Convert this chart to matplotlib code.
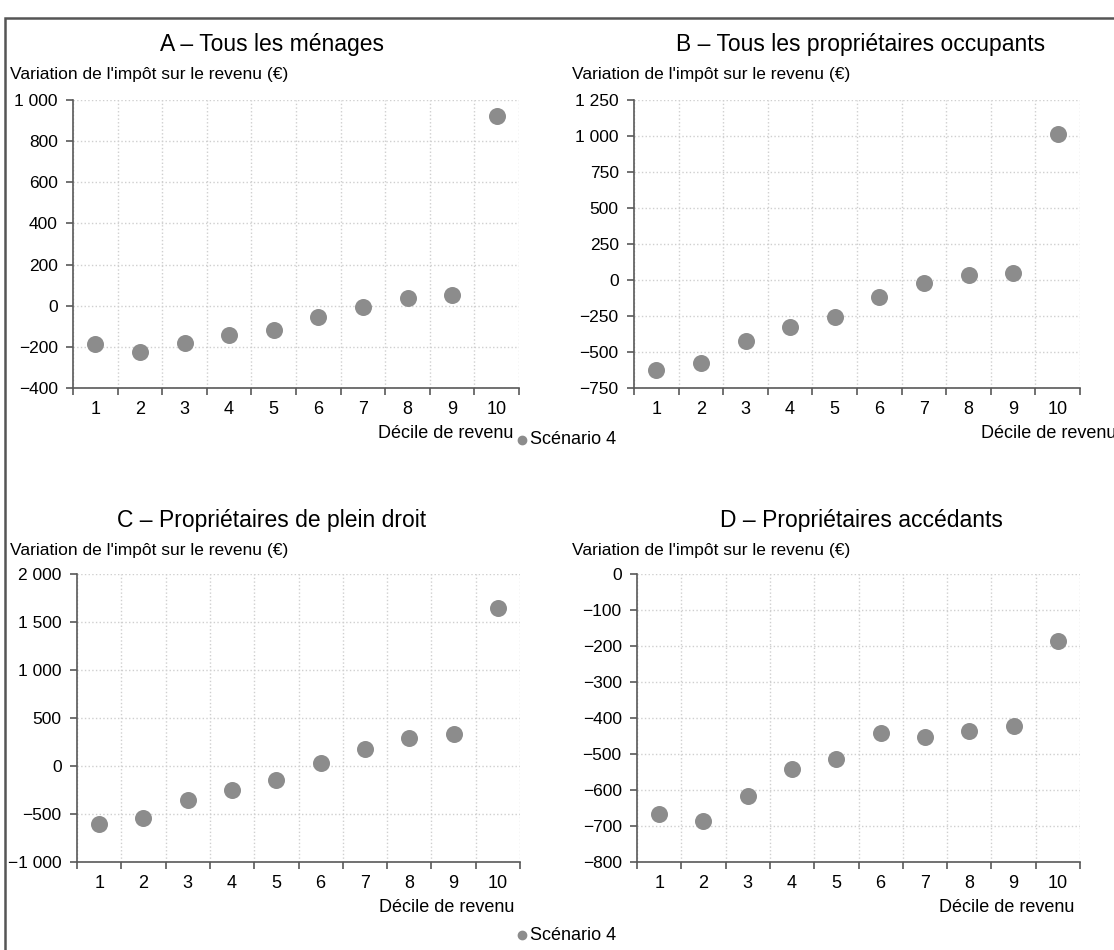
import numpy as np
import matplotlib.pyplot as plt
from matplotlib.patches import Rectangle
from matplotlib.ticker import FuncFormatter, MultipleLocator

plt.rcParams['font.family'] = ['Liberation Sans', 'DejaVu Sans']

# --- Données ---
deciles = list(range(1, 11))
tous_menages = [-188, -225, -183, -142, -118, -56, -5, 36, 52, 922]
proprio_occupants = [-625, -574, -424, -329, -259, -116, -21, 37, 51, 1012]
plein_droit = [-608, -539, -358, -250, -146, 31, 181, 292, 330, 1648]
accedants = [-667, -687, -618, -541, -514, -442, -452, -436, -422, -186]

titres = ["A – Tous les ménages", "B – Tous les propriétaires occupants",
          "C – Propriétaires de plein droit", "D – Propriétaires accédants"]
ylabel = "Variation de l'impôt sur le revenu (€)"
xlabel = "Décile de revenu"
serie = "Scénario 4"

W, H = 1114, 950
gris_point = '#8c8c8c'
gris_axe = '#595959'

fig = plt.figure(figsize=(W / 100, H / 100), dpi=100)


def px_axes(left, right, top, bottom):
    return fig.add_axes([left / W, 1 - bottom / H, (right - left) / W, (bottom - top) / H])


def fmt(v, pos):
    s = f"{abs(v):,.0f}".replace(',', ' ')
    return ('\u2212' + s) if v < 0 else s


panneaux = [
    # (données, gauche, droite, haut, bas, ymin, ymax, pas)
    (tous_menages, 73, 519, 100, 388, -400, 1000, 200),
    (proprio_occupants, 634, 1080, 100, 388, -750, 1250, 250),
    (plein_droit, 77, 520, 574, 862, -1000, 2000, 500),
    (accedants, 637, 1080, 574, 862, -800, 0, 100),
]

for i, (vals, l, r, t, b, ymin, ymax, pas) in enumerate(panneaux):
    ax = px_axes(l, r, t, b)
    ax.scatter(deciles, vals, s=150, color=gris_point, zorder=3, linewidths=0)
    ax.set_xlim(0.5, 10.5)
    ax.set_ylim(ymin, ymax)
    ax.set_xticks(deciles)
    ax.set_xticks(np.arange(0.5, 11, 1), minor=True)
    ax.yaxis.set_major_locator(MultipleLocator(pas))
    ax.yaxis.set_major_formatter(FuncFormatter(fmt))
    ax.tick_params(axis='x', which='major', length=0, pad=9, labelsize=13)
    ax.tick_params(axis='x', which='minor', length=5, width=1.2, color=gris_axe, direction='out')
    ax.tick_params(axis='y', length=5, width=1.2, color=gris_axe, direction='out', labelsize=12.5, pad=6)
    ax.grid(True, axis='x', which='minor', linestyle=':', color='#cfcfcf', lw=1)
    ax.grid(True, axis='y', which='major', linestyle=':', color='#cfcfcf', lw=1)
    for s in ['top', 'right']:
        ax.spines[s].set_visible(False)
    for s in ['left', 'bottom']:
        ax.spines[s].set_color(gris_axe)
        ax.spines[s].set_linewidth(1.2)
    ax.set_axisbelow(True)

    # titre du panneau et libellé de l'axe vertical
    col_x = 272 if i % 2 == 0 else 861
    titre_y = 45 if i < 2 else 520
    fig.text(col_x / W, 1 - titre_y / H, titres[i], ha='center', va='center', fontsize=16.5)
    lab_x = 10 if i % 2 == 0 else 572
    fig.text(lab_x / W, 1 - (titre_y + 30) / H, ylabel, ha='left', va='center', fontsize=12.5)

    # libellé de l'axe horizontal, aligné à droite
    xl_r = r - 6 if i != 1 else 1116
    fig.text(xl_r / W, 1 - (b + 45) / H, xlabel, ha='right', va='center', fontsize=13)

# légendes
for y_leg in (440, 935):
    fig.text(530 / W, 1 - y_leg / H, serie, ha='left', va='center', fontsize=13)
    fig.lines.append(plt.Line2D([522 / W], [1 - y_leg / H], marker='o', markersize=6,
                                color=gris_point, transform=fig.transFigure))

# cadre
fig.patches.append(Rectangle((5 / W, -0.05), 1.2, 1 - 18 / H + 0.05, fill=False,
                             edgecolor='#555555', lw=1.8, transform=fig.transFigure))

plt.savefig("out.png", dpi=100)
